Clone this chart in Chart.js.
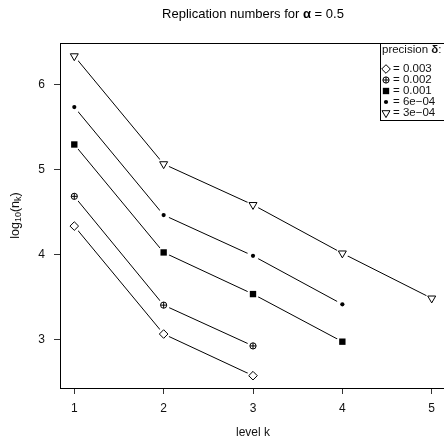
<!DOCTYPE html>
<html><head><meta charset="utf-8">
<script src="https://cdn.jsdelivr.net/npm/chart.js@4/dist/chart.umd.min.js"></script>
<style>
html,body{margin:0;padding:0;background:#fff;overflow:hidden;width:444px;height:439px}
#wrap{position:absolute;left:0;top:0;width:452px;height:439px}
</style></head><body>
<div id="wrap"><canvas id="c" width="452" height="439"></canvas></div>
<script>
// ---- data ----
const levels = [1, 2, 3, 4, 5];
const precisionLabels = ['0.003', '0.002', '0.001', '6e\u221204', '3e\u221204'];
const d003 = [4.34, 3.07, 2.58];
const d002 = [4.69, 3.41, 2.93];
const d001 = [5.30, 4.03, 3.54, 2.98];
const d6e4 = [5.74, 4.47, 3.99, 3.42];
const d3e4 = [6.34, 5.07, 4.59, 4.02, 3.49];
const xTicks = [1, 2, 3, 4, 5];
const yTicks = [3, 4, 5, 6];
const seriesValues = [d003, d002, d001, d6e4, d3e4];

const FONT = '"Liberation Sans", Arial, Helvetica, sans-serif';

// marker styles (R pch 5, 10, 15, 20, 6)
const markerStyles = [
  [{ pointStyle: 'rectRot', radius: 4.3, fill: '#fff', border: 1, rotation: 0 }],
  [{ pointStyle: 'circle', radius: 3.1, fill: '#fff', border: 1, rotation: 0 },
   { pointStyle: 'cross', radius: 3.1, fill: '#fff', border: 1, rotation: 0 }],
  [{ pointStyle: 'rect', radius: 4.5, fill: '#000', border: 0, rotation: 0 }],
  [{ pointStyle: 'circle', radius: 2.1, fill: '#000', border: 0, rotation: 0 }],
  [{ pointStyle: 'triangle', radius: 4.6, fill: '#fff', border: 1, rotation: 180 }]
];

const pts = vals => vals.map((v, i) => ({ x: levels[i], y: v }));
const datasets = [];
seriesValues.forEach((vals, si) => {
  // connecting line
  datasets.push({ label: precisionLabels[si], data: pts(vals), order: 4, borderColor: '#000', borderWidth: 1,
    pointRadius: 0, showLine: true, fill: false, tension: 0 });
  // white gap around each point (R type = "b")
  datasets.push({ data: pts(vals), order: 3, showLine: false, pointStyle: 'circle', pointRadius: 6,
    pointBackgroundColor: '#fff', pointBorderWidth: 0, pointBorderColor: '#fff' });
  // the markers (later layers get a lower order so they are drawn on top)
  markerStyles[si].forEach((ms, li) => {
    datasets.push({ data: pts(vals), order: 2 - li, showLine: false, pointStyle: ms.pointStyle, pointRadius: ms.radius,
      pointRotation: ms.rotation, pointBackgroundColor: ms.fill, pointBorderColor: '#000', pointBorderWidth: ms.border });
  });
});

function drawMarker(ctx, si, x, y) {
  markerStyles[si].forEach(ms => {
    ctx.save();
    ctx.fillStyle = ms.fill; ctx.strokeStyle = '#000'; ctx.lineWidth = ms.border || 1;
    Chart.helpers.drawPoint(ctx, { pointStyle: ms.pointStyle, radius: ms.radius, rotation: ms.rotation, borderWidth: ms.border }, x, y);
    ctx.restore();
  });
}

const decor = {
  id: 'decor',
  afterDraw(chart) {
    const ctx = chart.ctx;
    const a = chart.chartArea;
    ctx.save();
    // box
    ctx.strokeStyle = '#000'; ctx.lineWidth = 1;
    ctx.strokeRect(Math.round(a.left) + 0.5, Math.round(a.top) + 0.5, Math.round(a.right - a.left), Math.round(a.bottom - a.top));
    // title
    ctx.fillStyle = '#000';
    ctx.textBaseline = 'middle';
    const t1 = 'Replication numbers for ', t2 = '\u03b1', t3 = ' = 0.5';
    ctx.font = '13px ' + FONT;
    const w1 = ctx.measureText(t1).width, w3 = ctx.measureText(t3).width;
    ctx.font = 'bold 13px ' + FONT;
    const w2 = ctx.measureText(t2).width;
    const cx = (a.left + a.right) / 2;
    let x = cx - (w1 + w2 + w3) / 2;
    const ty = 14;
    ctx.textAlign = 'left';
    ctx.font = '13px ' + FONT; ctx.fillText(t1, x, ty); x += w1;
    ctx.font = 'bold 13px ' + FONT; ctx.fillText(t2, x, ty); x += w2;
    ctx.font = '13px ' + FONT; ctx.fillText(t3, x, ty);
    // x title
    ctx.fillStyle = '#111';
    ctx.font = '12px ' + FONT;
    ctx.textAlign = 'center';
    ctx.fillText('level k', cx, 433);
    // y title with subscripts
    ctx.save();
    ctx.translate(16, (a.top + a.bottom) / 2);
    ctx.rotate(-Math.PI / 2);
    const parts = [['log', 12.5, 0], ['10', 9, 3], ['(n', 12.5, 0], ['k', 9, 3], [')', 12.5, 0]];
    let tw = 0;
    parts.forEach(p => { ctx.font = p[1] + 'px ' + FONT; tw += ctx.measureText(p[0]).width; });
    let px = -tw / 2;
    ctx.textAlign = 'left';
    parts.forEach(p => {
      ctx.font = p[1] + 'px ' + FONT;
      ctx.fillText(p[0], px, p[2]);
      px += ctx.measureText(p[0]).width;
    });
    ctx.restore();
    // legend
    const lx = 380, ly = Math.round(a.top), lb = 120;
    ctx.fillStyle = '#fff';
    ctx.fillRect(lx + 1, ly + 1, a.right - lx, lb - ly - 1);
    ctx.strokeStyle = '#000';
    ctx.strokeRect(lx + 0.5, ly + 0.5, a.right - lx, lb - ly);
    ctx.fillStyle = '#111';
    ctx.textAlign = 'left';
    const LF = 11.5;
    ctx.font = LF + 'px ' + FONT;
    const lt1 = 'precision ';
    const lw1 = ctx.measureText(lt1).width;
    const tyl = 50;
    ctx.fillText(lt1, 382, tyl);
    ctx.font = 'bold ' + LF + 'px ' + FONT;
    ctx.fillText('\u03b4', 382 + lw1, tyl);
    const lw2 = ctx.measureText('\u03b4').width;
    ctx.font = LF + 'px ' + FONT;
    ctx.fillText(':', 382 + lw1 + lw2, tyl);
    precisionLabels.forEach((lab, i) => {
      const yy = 69 + i * 11;
      drawMarker(ctx, i, 386, yy);
      ctx.fillStyle = '#111';
      ctx.font = LF + 'px ' + FONT;
      ctx.textBaseline = 'middle';
      ctx.fillText('= ' + lab, 393, yy);
    });
    ctx.restore();
  }
};

new Chart(document.getElementById('c'), {
  type: 'line',
  data: { datasets },
  plugins: [decor],
  options: {
    responsive: false,
    animation: false,
    events: [],
    layout: { padding: { top: 43, right: 6, left: 0, bottom: 0 } },
    plugins: { legend: { display: false }, title: { display: false }, tooltip: { enabled: false } },
    scales: {
      x: {
        type: 'linear', min: 0.84, max: 5.16,
        afterBuildTicks: s => { s.ticks = xTicks.map(v => ({ value: v })); },
        afterFit: s => { s.height = 51; },
        grid: { display: true, drawOnChartArea: false, drawTicks: true, tickLength: 6, color: '#333', lineWidth: 1 },
        border: { display: true, color: '#000', width: 1 },
        ticks: { font: { family: FONT, size: 12 }, color: '#111', padding: 7, maxRotation: 0, autoSkip: false, callback: v => String(v) }
      },
      y: {
        type: 'linear', min: 2.435, max: 6.494,
        afterBuildTicks: s => { s.ticks = yTicks.map(v => ({ value: v })); },
        afterFit: s => { s.width = 60; },
        grid: { display: true, drawOnChartArea: false, drawTicks: true, tickLength: 6, color: '#333', lineWidth: 1 },
        border: { display: true, color: '#000', width: 1 },
        ticks: { font: { family: FONT, size: 12 }, color: '#111', padding: 9, autoSkip: false, callback: v => String(v) }
      }
    }
  }
});
</script>
</body></html>
